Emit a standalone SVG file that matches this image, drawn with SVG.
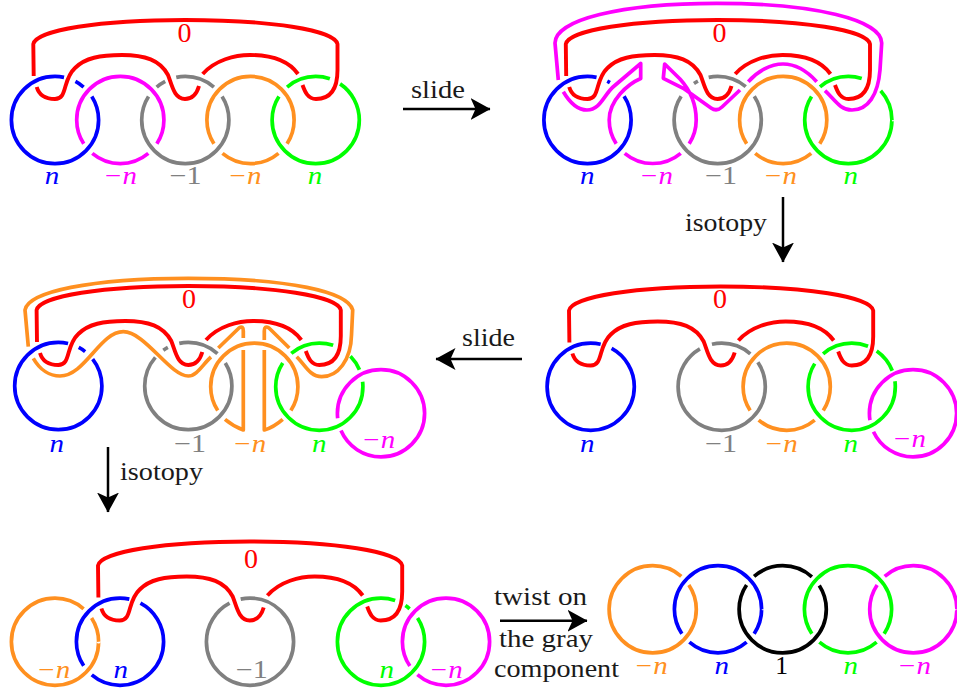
<svg xmlns="http://www.w3.org/2000/svg" xmlns:xlink="http://www.w3.org/1999/xlink" width="957" height="694" viewBox="0 0 957 694">
<style>
.c{fill:none;stroke-width:3.7;stroke-linejoin:round}
.blue{stroke:#0000ff}.mag{stroke:#ff00ff}.gray{stroke:#808080}.org{stroke:#ff9020}.grn{stroke:#00ff00}.red{stroke:#ff0000;stroke-width:3.9}.blk{stroke:#000}
.tb{fill:#0000ff}.tm{fill:#ff00ff}.tg{fill:#808080}.to{fill:#ff9020}.tn{fill:#00ff00}.tr{fill:#ff0000;font-size:28px}.tk{fill:#000}
text{font-family:"Liberation Serif",serif;font-size:25.5px}
.a{text-anchor:middle}.i{font-style:italic}
.lbl{fill:#1a1a1a}
.ar{stroke:#000;stroke-width:2.5;fill:none;marker-end:url(#head)}
</style>
<defs>
<marker id="head" markerUnits="userSpaceOnUse" markerWidth="22" markerHeight="24" refX="19.5" refY="12" orient="auto"><path d="M0,1 L20,12 L0,23 L5,12 Z" fill="#000"/></marker>
<path id="red-link" class="c red" d="M33.7,76 L33.3,44 C36,30 100,20 185,20 C270,20 335,30 337.5,44 L337.5,70 C337.5,90 330,99 316,99 C308,99 305,92 302.5,85 M36.7,87 C39,95 46,99 55,99 C68,99 62,80 75,68 C85,58 100,55 122,55 C145,55 160,60 168,75 C172,85 174,99 185,99 C193,99 197,93 199,86 M202.7,74 C215,60 235,55 250,55 C270,55 288,60 298,74"/>
</defs>

<g id="panel1">
<use id="p1-red" href="#red-link"/>
<g id="p1-blue"><circle class="c blue" cx="55" cy="120" r="43.6" pathLength="360" stroke-dasharray="282 16 13 16.5 32.5 0"/><text class="a i tb" x="52" y="184" textLength="14.5" lengthAdjust="spacingAndGlyphs">n</text></g>
<g id="p1-magenta"><circle class="c mag" cx="120.3" cy="120" r="43.6" pathLength="360" stroke-dasharray="33 17 80 17 213 0"/><text class="a i tm" x="120" y="184" textLength="34" lengthAdjust="spacingAndGlyphs">−n</text></g>
<g id="p1-gray"><circle class="c gray" cx="185.3" cy="120" r="43.6" pathLength="360" stroke-dasharray="212.5 16.5 13.5 15.5 53 16.5 32.5 0"/><text class="a tg" x="185.5" y="184" textLength="32" lengthAdjust="spacingAndGlyphs">−1</text></g>
<g id="p1-orange"><circle class="c org" cx="250.5" cy="120" r="43.6" pathLength="360" stroke-dasharray="33 17 80 17 213 0"/><text class="a i to" x="244.5" y="184" textLength="34" lengthAdjust="spacingAndGlyphs">−n</text></g>
<g id="p1-green"><circle class="c grn" cx="315.7" cy="120" r="43.6" pathLength="360" stroke-dasharray="212.5 16.5 60 15 56 0"/><text class="a i tn" x="315" y="184" textLength="14.5" lengthAdjust="spacingAndGlyphs">n</text></g>
<text class="a tr" x="184.5" y="41.5">0</text>
</g>

<g id="panel2">
<use id="p2-red" href="#red-link" x="532.5"/>
<g id="p2-blue"><circle class="c blue" cx="587.5" cy="120" r="43.6" pathLength="360" stroke-dasharray="282 15 4 26 33 0"/><text class="a i tb" x="587.3" y="184" textLength="14.5" lengthAdjust="spacingAndGlyphs">n</text></g>
<g id="p2-magenta">
<path class="c mag" d="M558.3,80 L555,43 C555,20 620,3.3 716.7,3.3 C815,3.3 881.7,20 881.7,43 L880,70 C878,95 868,110 852,110 C840,110 835,100 825,90.7"/>
<path class="c mag" d="M816.7,81.7 C808,72 798,64 783,64 C770,64 757,72 748.3,81.7"/>
<path class="c mag" d="M563.3,91.7 C570,103 578,110 587,110 C600,110 604,95 613,87 L640.7,63.5 L640.7,78.5 C628,84 609.2,100 609.2,120 A43.6,43.6 0 0 0 616.2,143.7"/>
<path class="c mag" d="M680.7,153.3 A43.6,43.6 0 0 1 624.7,153.3"/>
<path class="c mag" d="M740,90 L722,107 Q716.7,112 711,108 L683.3,88.3 L663.3,78.3 L664.7,64 L680,79 C690,90 696.2,105 696.2,120 A43.6,43.6 0 0 1 689.2,143.7"/>
<text class="a i tm" x="656" y="184" textLength="34" lengthAdjust="spacingAndGlyphs">−n</text></g>
<g id="p2-gray"><circle class="c gray" cx="717.7" cy="120" r="43.6" pathLength="360" stroke-dasharray="213 24 6 15 52 17 33 0"/><text class="a tg" x="721" y="184" textLength="32" lengthAdjust="spacingAndGlyphs">−1</text></g>
<g id="p2-orange"><circle class="c org" cx="783.2" cy="120" r="43.6" pathLength="360" stroke-dasharray="33 17 80 17 213 0"/><text class="a i to" x="780" y="184" textLength="34" lengthAdjust="spacingAndGlyphs">−n</text></g>
<g id="p2-green"><circle class="c grn" cx="848.3" cy="120" r="43.6" pathLength="360" stroke-dasharray="212.5 17 58.5 30 42 0"/><text class="a i tn" x="850.7" y="184" textLength="14.5" lengthAdjust="spacingAndGlyphs">n</text></g>
<text class="a tr" x="719.5" y="41.5">0</text>
</g>

<g id="panel3">
<use id="p3-red" href="#red-link" x="535.7" y="266.5"/>
<g id="p3-blue"><circle class="c blue" cx="590.7" cy="386.7" r="43.6" pathLength="360" stroke-dasharray="283.3 15.4 61.3 0"/><text class="a i tb" x="587.3" y="451.7" textLength="14.5" lengthAdjust="spacingAndGlyphs">n</text></g>
<g id="p3-gray"><circle class="c gray" cx="721.7" cy="386.7" r="43.6" pathLength="360" stroke-dasharray="240 17 54 15 34 0"/><text class="a tg" x="721" y="451.7" textLength="32" lengthAdjust="spacingAndGlyphs">−1</text></g>
<g id="p3-orange"><circle class="c org" cx="786.7" cy="386.7" r="43.6" pathLength="360" stroke-dasharray="33 17 80 17 213 0"/><text class="a i to" x="780.7" y="451.7" textLength="34" lengthAdjust="spacingAndGlyphs">−n</text></g>
<g id="p3-green"><circle class="c grn" cx="851.7" cy="386.7" r="43.6" pathLength="360" stroke-dasharray="212 17 63 13 33.5 14.2 7.3 0"/><text class="a i tn" x="850.7" y="451.7" textLength="14.5" lengthAdjust="spacingAndGlyphs">n</text></g>
<g id="p3-magenta"><circle class="c mag" cx="913" cy="413.3" r="43.6" pathLength="360" stroke-dasharray="155 16 189 0"/><text class="a i tm" x="909" y="447.3" textLength="34" lengthAdjust="spacingAndGlyphs">−n</text></g>
<text class="a tr" x="720" y="308">0</text>
</g>

<g id="panel4">
<use id="p4-red" href="#red-link" x="3.3" y="266"/>
<g id="p4-blue"><circle class="c blue" cx="58.3" cy="386" r="43.6" pathLength="360" stroke-dasharray="283 15 10 14 38 0"/><text class="a i tb" x="56.7" y="451.7" textLength="14.5" lengthAdjust="spacingAndGlyphs">n</text></g>
<g id="p4-gray"><circle class="c gray" cx="188.3" cy="386" r="43.6" pathLength="360" stroke-dasharray="221 14 7 16 54 16 32 0"/><text class="a tg" x="190" y="451.7" textLength="32" lengthAdjust="spacingAndGlyphs">−1</text></g>
<g id="p4-orange">
<circle class="c org" cx="254.3" cy="386.7" r="43.6" pathLength="360" stroke-dasharray="33 114 213 0"/>
<path class="c org" d="M28.3,346.7 L25,310 C28,292 90,278.3 188.3,278.3 C290,278.3 348,292 352.7,310 L351.5,335 C351,360 338,376.7 321.7,376.7 C310,376.7 305,365 296.7,356.7"/>
<path class="c org" d="M33.3,358.3 C40,370 50,376 60,376 C85,376 100,331.7 123.3,331.7 C145,331.7 170,376 188.3,376 C197,376 203,364 211,357"/>
<path class="c org" d="M218.3,348 L239,328 Q243.3,325 243.3,331 L243.3,338 M243.3,350 L243.3,430 Q233,426 225,419.3"/>
<path class="c org" d="M289.3,348 L269,328 Q264.3,325 264.3,331 L264.3,340 M264.3,350 L264.3,430 Q274,427 282.7,419.3"/>
<text class="a i to" x="249.3" y="451.7" textLength="34" lengthAdjust="spacingAndGlyphs">−n</text></g>
<g id="p4-green"><circle class="c grn" cx="319.3" cy="386.7" r="43.6" pathLength="360" stroke-dasharray="213 17 58.6 27 21.4 16.4 6.6 0"/><text class="a i tn" x="319.3" y="451.7" textLength="14.5" lengthAdjust="spacingAndGlyphs">n</text></g>
<g id="p4-magenta"><circle class="c mag" cx="381" cy="413.3" r="43.6" pathLength="360" stroke-dasharray="156.6 16.9 186.5 0"/><text class="a i tm" x="378.3" y="447.7" textLength="34" lengthAdjust="spacingAndGlyphs">−n</text></g>
<text class="a tr" x="189" y="308">0</text>
</g>

<g id="panel5">
<use id="p5-red" href="#red-link" x="64.7" y="521.5"/>
<g id="p5-orange"><circle class="c org" cx="55" cy="641.7" r="43.6" pathLength="360" stroke-dasharray="311 16 33 0"/><text class="a i to" x="53.3" y="677.7" textLength="34" lengthAdjust="spacingAndGlyphs">−n</text></g>
<g id="p5-blue"><circle class="c blue" cx="120" cy="641.7" r="43.6" pathLength="360" stroke-dasharray="130.4 16 136 15.6 62 0"/><text class="a i tb" x="120.7" y="677.7" textLength="14.5" lengthAdjust="spacingAndGlyphs">n</text></g>
<g id="p5-gray"><circle class="c gray" cx="250" cy="641.7" r="43.6" pathLength="360" stroke-dasharray="242 15.6 102.4 0"/><text class="a tg" x="251.7" y="677.7" textLength="32" lengthAdjust="spacingAndGlyphs">−1</text></g>
<g id="p5-green"><circle class="c grn" cx="381" cy="641.7" r="43.6" pathLength="360" stroke-dasharray="289 15 7 16 33 0"/><text class="a i tn" x="386.7" y="677.7" textLength="14.5" lengthAdjust="spacingAndGlyphs">n</text></g>
<g id="p5-magenta"><circle class="c mag" cx="446" cy="641.7" r="43.6" pathLength="360" stroke-dasharray="131 15 214 0"/><text class="a i tm" x="445.7" y="677.7" textLength="34" lengthAdjust="spacingAndGlyphs">−n</text></g>
<text class="a tr" x="251" y="567.7">0</text>
</g>

<g id="panel6">
<g id="p6-orange"><circle class="c org" cx="652.7" cy="609.3" r="43.6" pathLength="360" stroke-dasharray="311 15 34 0"/><text class="a i to" x="650.7" y="674.3" textLength="34" lengthAdjust="spacingAndGlyphs">−n</text></g>
<g id="p6-blue"><circle class="c blue" cx="718" cy="609.3" r="43.6" pathLength="360" stroke-dasharray="34 15 82 15 214 0"/><text class="a i tb" x="721.7" y="674.3" textLength="14.5" lengthAdjust="spacingAndGlyphs">n</text></g>
<g id="p6-black"><circle class="c blk" cx="782.7" cy="609.3" r="43.6" pathLength="360" stroke-dasharray="214 15 83 15 33 0"/><text class="a tk" x="781.7" y="674.3">1</text></g>
<g id="p6-green"><circle class="c grn" cx="848" cy="609.3" r="43.6" pathLength="360" stroke-dasharray="34 15 82 15 214 0"/><text class="a i tn" x="850.7" y="674.3" textLength="14.5" lengthAdjust="spacingAndGlyphs">n</text></g>
<g id="p6-magenta"><circle class="c mag" cx="913.3" cy="609.3" r="43.6" pathLength="360" stroke-dasharray="214 15 131 0"/><text class="a i tm" x="914" y="674.3" textLength="34" lengthAdjust="spacingAndGlyphs">−n</text></g>
</g>

<g id="connectors">
<line class="ar" x1="403" y1="109" x2="490" y2="109"/>
<line class="ar" x1="783" y1="197" x2="783" y2="262"/>
<line class="ar" x1="522" y1="359" x2="436" y2="359"/>
<line class="ar" x1="108" y1="447" x2="108" y2="512"/>
<line class="ar" x1="500" y1="620.7" x2="587" y2="620.7"/>
</g>

<g id="connector-labels">
<text class="lbl" x="411" y="98" textLength="54" lengthAdjust="spacingAndGlyphs">slide</text>
<text class="lbl" x="685" y="231" textLength="82" lengthAdjust="spacingAndGlyphs">isotopy</text>
<text class="lbl" x="462" y="346" textLength="53" lengthAdjust="spacingAndGlyphs">slide</text>
<text class="lbl" x="120" y="480" textLength="83" lengthAdjust="spacingAndGlyphs">isotopy</text>
<text class="lbl" x="494" y="605" textLength="93" lengthAdjust="spacingAndGlyphs">twist on</text>
<text class="lbl" x="499" y="647" textLength="94" lengthAdjust="spacingAndGlyphs">the gray</text>
<text class="lbl" x="494" y="676.7" textLength="125" lengthAdjust="spacingAndGlyphs">component</text>
</g>
</svg>
